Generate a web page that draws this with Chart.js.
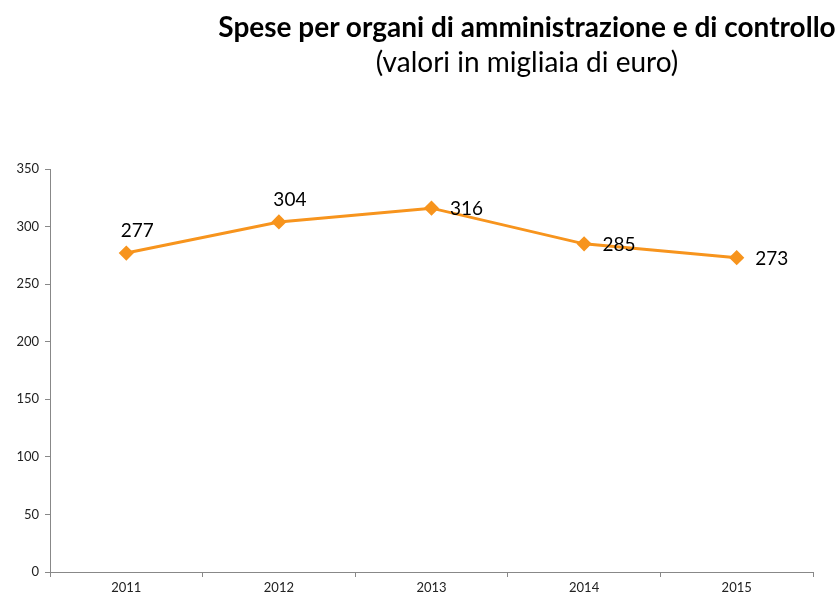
<!DOCTYPE html>
<html>
<head>
<meta charset="utf-8">
<script src="https://cdn.jsdelivr.net/npm/chart.js@4"></script>
<style>
  body { margin: 0; background: #fff; }
  #wrap { position: relative; width: 838px; height: 598px; }
  #title { position: absolute; left: 212px; width: 630px; top: 9px; text-align: center;
           font-family: Lato, sans-serif; color: #000; }
  #title .main { font-weight: bold; font-size: 28px; line-height: 34px; }
  #title .sub { font-size: 28px; line-height: 36px; }
</style>
</head>
<body>
<div id="wrap">
  <canvas id="chart" width="838" height="598"></canvas>
  <div id="title">
    <div class="main">Spese per organi di amministrazione e di controllo</div>
    <div class="sub">(valori in migliaia di euro)</div>
  </div>
</div>
<script>
var years = ["2011", "2012", "2013", "2014", "2015"];
var spese = [277, 304, 316, 285, 273];
var labelPlace = ["above", "above", "right", "right", "right"];
var yTicks = [0, 50, 100, 150, 200, 250, 300, 350];

// Draw the value next to each point
var valueLabels = {
    id: "valueLabels",
    afterDatasetsDraw: function(chart) {
        var ctx = chart.ctx;
        var meta = chart.getDatasetMeta(0);
        ctx.save();
        ctx.font = "19px Lato, sans-serif";
        ctx.fillStyle = "#000";
        ctx.textAlign = "center";
        ctx.textBaseline = "middle";
        meta.data.forEach(function(pt, i) {
            var x = pt.x, y = pt.y;
            if (labelPlace[i] === "above") {
                x += 11; y -= 22;
            } else {
                x += 35; y += 1;
            }
            ctx.fillText(String(spese[i]), x, y);
        });
        ctx.restore();
    }
};

var ctx = document.getElementById("chart").getContext("2d");
var chart = new Chart(ctx, {
    type: "line",
    data: {
        labels: years,
        datasets: [{
            data: spese,
            borderColor: "#F7941D",
            backgroundColor: "#F7941D",
            borderWidth: 3,
            pointStyle: "rectRot",
            pointRadius: 5.5,
            pointHoverRadius: 5.5,
            tension: 0
        }]
    },
    options: {
        responsive: false,
        animation: false,
        layout: { padding: { top: 169, right: 25, left: 0, bottom: 0 } },
        plugins: {
            legend: { display: false },
            tooltip: { enabled: false }
        },
        scales: {
            x: {
                offset: true,
                grid: { offset: true, drawOnChartArea: false, tickLength: 5, color: "#888" },
                border: { color: "#888", width: 1 },
                ticks: { color: "#222", font: { family: "Lato, sans-serif", size: 13 }, padding: 3 },
                afterFit: function(scale) { scale.height = 26; }
            },
            y: {
                min: 0,
                max: 350,
                afterBuildTicks: function(scale) {
                    scale.ticks = yTicks.map(function(v) { return { value: v }; });
                },
                grid: { drawOnChartArea: false, tickLength: 5, color: "#888" },
                border: { color: "#888", width: 1 },
                ticks: { color: "#222", font: { family: "Lato, sans-serif", size: 13 }, padding: 6 },
                afterFit: function(scale) { scale.width = 50; }
            }
        }
    },
    plugins: [valueLabels]
});
</script>
</body>
</html>
